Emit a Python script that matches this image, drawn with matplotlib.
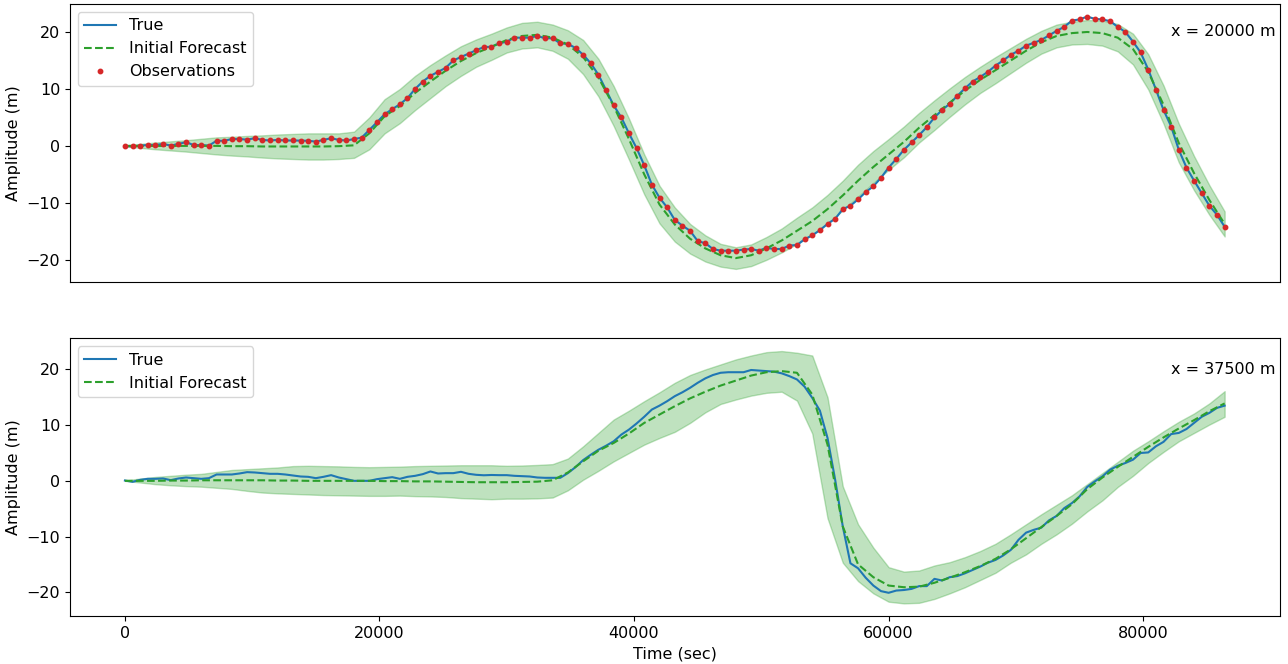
import numpy as np
import matplotlib
matplotlib.use('Agg')
import matplotlib.pyplot as plt
import matplotlib.transforms as mtransforms

plt.rcParams['font.size'] = 11.5

# time axes (sec): truth/obs every 600 s, forecast & ensemble band every 1200 s
t_true = np.arange(0, 86401, 600)
t_fc = np.arange(0, 86401, 1200)

# x = 20000 m
top_true = [
    0.0, -0.1, 0.05, 0.15, 0.15, 0.35, 0.05, 0.35, 0.65, 0.15,
    0.15, 0.05, 0.9, 0.9, 1.2, 1.2, 1.1, 1.35, 1.05, 0.95,
    1.05, 0.95, 0.95, 0.93, 0.9, 0.75, 1.05, 1.35, 1.05, 0.95,
    1.2, 1.45, 2.8, 4.15, 5.55, 6.45, 7.3, 8.4, 10.0, 11.3,
    12.3, 13.0, 13.7, 15.0, 15.6, 16.2, 16.8, 17.35, 17.4, 18.0,
    18.3, 19.0, 19.0, 19.0, 19.3, 18.9, 18.9, 18.0, 17.9, 17.2,
    16.0, 14.5, 12.5, 9.8, 7.1, 5.0, 2.2, -0.4, -3.4, -6.8,
    -9.1, -10.8, -13.0, -14.0, -14.9, -16.7, -17.1, -18.1, -18.4, -18.4,
    -18.4, -18.2, -18.1, -18.4, -17.9, -18.1, -18.1, -17.5, -17.4, -16.4,
    -15.7, -14.8, -13.7, -12.8, -11.1, -10.5, -9.4, -8.1, -7.1, -5.6,
    -3.8, -2.3, -0.7, 0.6, 1.9, 3.3, 5.0, 6.3, 7.4, 8.8,
    10.1, 11.3, 12.1, 13.0, 14.1, 15.0, 16.0, 16.7, 17.6, 18.1,
    18.6, 19.4, 20.2, 20.9, 22.0, 22.2, 22.7, 22.3, 22.2, 21.9,
    20.9, 20.0, 18.3, 16.4, 13.4, 9.9, 6.3, 3.4, -0.7, -3.8,
    -6.1, -8.3, -10.5, -12.1, -14.2,
]
top_obs = list(top_true)
top_fc = [
    0.0, 0.0, 0.0, 0.0, 0.0, 0.0, 0.0, -0.05, -0.05, -0.1,
    -0.1, -0.1, -0.1, -0.1, -0.05, 0.1, 2.2, 5.2, 7.0, 9.3,
    11.3, 13.2, 14.9, 16.3, 17.4, 18.6, 19.3, 19.5, 19.0, 17.8,
    15.6, 12.0, 7.0, 1.2, -5.0, -10.3, -13.8, -16.3, -18.0, -19.2,
    -19.7, -19.2, -18.0, -16.6, -14.9, -13.2, -11.1, -8.7, -6.1, -3.7,
    -1.5, 0.7, 3.2, 5.4, 7.6, 9.7, 11.6, 13.3, 15.0, 16.7,
    18.2, 19.3, 19.8, 20.0, 19.8, 19.0, 17.0, 13.0, 7.2, 0.5,
    -4.8, -9.5, -13.7,
]
top_lo = [
    -0.1, -0.35, -0.6, -0.8, -1.0, -1.25, -1.5, -1.7, -1.85, -2.05,
    -2.2, -2.3, -2.4, -2.4, -2.3, -2.1, -0.6, 2.2, 4.0, 6.3,
    8.4, 10.5, 12.3, 13.9, 15.1, 16.4, 17.1, 17.3, 16.7, 15.3,
    12.6, 8.7, 3.5, -2.4, -8.5, -13.6, -16.8, -18.9, -20.3, -21.2,
    -21.6, -21.1, -20.0, -18.7, -17.2, -15.6, -13.6, -11.3, -8.9, -6.5,
    -4.2, -2.0, 0.6, 2.8, 5.1, 7.3, 9.3, 11.0, 12.8, 14.6,
    16.2, 17.3, 17.8, 17.9, 17.6, 16.6, 14.3, 9.9, 3.9, -2.9,
    -7.8, -12.1, -15.9,
]
top_hi = [
    0.1, 0.35, 0.6, 0.8, 1.0, 1.25, 1.5, 1.6, 1.75, 1.85,
    2.0, 2.1, 2.2, 2.2, 2.2, 2.5, 5.0, 8.2, 10.0, 12.3,
    14.2, 15.9, 17.5, 18.7, 19.7, 20.8, 21.6, 21.8, 21.3, 20.3,
    18.6, 15.3, 10.5, 4.8, -1.5, -7.0, -10.8, -13.7, -15.7, -17.2,
    -17.8, -17.3, -16.0, -14.5, -12.6, -10.8, -8.6, -6.1, -3.3, -0.9,
    1.2, 3.4, 5.8, 8.0, 10.1, 12.1, 13.9, 15.6, 17.2, 18.8,
    20.2, 21.3, 21.8, 22.1, 22.0, 21.4, 19.7, 16.1, 10.6, 3.9,
    -1.8, -6.9, -11.5,
]

# x = 37500 m
bot_true = [
    0.06, -0.18, 0.18, 0.36, 0.36, 0.42, 0.12, 0.42, 0.6, 0.48,
    0.36, 0.48, 1.14, 1.14, 1.14, 1.32, 1.56, 1.5, 1.38, 1.26,
    1.26, 1.14, 0.96, 0.78, 0.72, 0.48, 0.72, 1.02, 0.6, 0.3,
    0.0, 0.0, 0.0, 0.3, 0.48, 0.66, 0.36, 0.72, 0.9, 1.2,
    1.68, 1.32, 1.38, 1.38, 1.62, 1.26, 1.08, 1.0, 1.05, 1.02,
    1.02, 0.9, 0.84, 0.78, 0.6, 0.54, 0.54, 0.54, 1.38, 2.46,
    3.72, 4.68, 5.58, 6.3, 7.1, 8.3, 9.2, 10.3, 11.5, 12.8,
    13.5, 14.3, 15.2, 15.9, 16.7, 17.6, 18.4, 19.0, 19.4, 19.5,
    19.5, 19.5, 19.9, 19.8, 19.7, 19.6, 19.3, 18.8, 18.2, 16.9,
    14.9, 12.6, 7.7, 0.2, -8.2, -14.8, -15.7, -17.4, -18.8, -19.8,
    -20.1, -19.7, -19.6, -19.4, -18.9, -18.9, -17.6, -17.9, -17.3, -17.1,
    -16.6, -16.0, -15.4, -14.7, -14.2, -13.4, -12.4, -10.6, -9.3, -8.8,
    -8.4, -7.1, -6.3, -4.9, -4.0, -2.8, -1.1, -0.1, 0.8, 2.0,
    2.7, 3.2, 3.8, 5.0, 5.1, 6.2, 7.0, 8.4, 8.6, 9.3,
    10.4, 11.5, 12.2, 13.1, 13.5,
]
bot_fc = [
    0.0, 0.0, 0.0, 0.05, 0.05, 0.1, 0.1, 0.1, 0.1, 0.1,
    0.05, 0.05, 0.0, 0.0, 0.0, 0.0, 0.0, -0.05, -0.05, -0.1,
    -0.1, -0.15, -0.2, -0.25, -0.25, -0.25, -0.2, -0.15, 0.1, 1.5,
    3.5, 5.4, 6.8, 8.5, 10.4, 11.9, 13.4, 14.8, 16.0, 17.1,
    18.0, 18.9, 19.5, 19.7, 19.4, 15.5, 6.5, -8.2, -15.0, -17.3,
    -18.8, -19.1, -19.0, -18.3, -17.4, -16.4, -15.3, -14.0, -12.3, -10.3,
    -8.3, -6.3, -4.2, -1.5, 0.6, 2.5, 4.3, 6.1, 7.8, 9.4,
    10.9, 12.5, 13.9,
]
bot_lo = [
    0.0, -0.3, -0.6, -0.8, -0.95, -1.05, -1.25, -1.45, -1.8, -2.1,
    -2.25, -2.35, -2.45, -2.55, -2.6, -2.65, -2.7, -2.7, -2.65, -2.75,
    -2.8, -2.9, -3.1, -3.2, -3.3, -3.2, -3.2, -3.15, -3.0, -1.7,
    0.2, 1.8, 3.5, 5.0, 6.5, 7.7, 8.8, 10.4, 12.3, 13.8,
    14.6, 15.3, 15.8, 16.0, 14.4, 8.5, -6.7, -14.7, -18.0, -20.2,
    -21.7, -22.0, -21.9, -21.2, -20.2, -19.1, -17.8, -16.5, -14.7, -13.2,
    -11.3, -9.6, -7.7, -5.5, -3.5, -1.1, 0.9, 3.2, 5.2, 7.1,
    8.6, 10.1, 11.5,
]
bot_hi = [
    0.1, 0.4, 0.7, 0.9, 1.1, 1.25, 1.6, 1.95, 2.1, 2.25,
    2.4, 2.65, 2.7, 2.65, 2.6, 2.5, 2.45, 2.5, 2.55, 2.65,
    2.7, 2.75, 2.8, 2.8, 2.8, 2.7, 2.75, 2.85, 3.0, 4.0,
    6.2, 8.6, 11.0, 12.6, 14.3, 15.9, 17.6, 19.0, 20.0, 20.9,
    21.8, 22.5, 23.1, 23.3, 23.0, 22.5, 15.0, -1.0, -7.8, -12.0,
    -15.5, -16.3, -16.1, -15.2, -14.6, -13.7, -12.6, -11.3, -9.6, -7.8,
    -6.0, -4.3, -2.6, -0.6, 1.4, 3.4, 5.4, 7.1, 8.9, 10.6,
    12.1, 13.9, 16.1,
]

fig, axes = plt.subplots(2, 1, figsize=(12.88, 6.64), dpi=100)
fig.subplots_adjust(left=0.0543, right=0.9935, top=0.994, bottom=0.0723,
                    hspace=0.205)

panels = [
    (axes[0], top_true, top_fc, top_lo, top_hi, top_obs, 'x = 20000 m'),
    (axes[1], bot_true, bot_fc, bot_lo, bot_hi, None, 'x = 37500 m'),
]

for ax, tr, fc, lo, hi, obs, label in panels:
    ax.fill_between(t_fc, lo, hi, color='tab:green', alpha=0.3)
    ax.plot(t_true, tr, color='tab:blue', lw=1.5, label='True')
    ax.plot(t_fc, fc, color='tab:green', ls='--', lw=1.5,
            label='Initial Forecast')
    if obs is not None:
        ax.plot(t_true, obs, 'o', color='tab:red', ms=3.2,
                label='Observations')
    ax.set_ylabel('Amplitude (m)')
    ax.legend(loc='upper left')
    trans = mtransforms.blended_transform_factory(ax.transAxes, ax.transData)
    ax.text(0.997, 20, label, transform=trans, ha='right', va='center')

axes[1].sharex(axes[0])
axes[0].tick_params(axis='x', bottom=False, labelbottom=False)
axes[1].set_xlabel('Time (sec)')

fig.savefig('out.png', dpi=100)
